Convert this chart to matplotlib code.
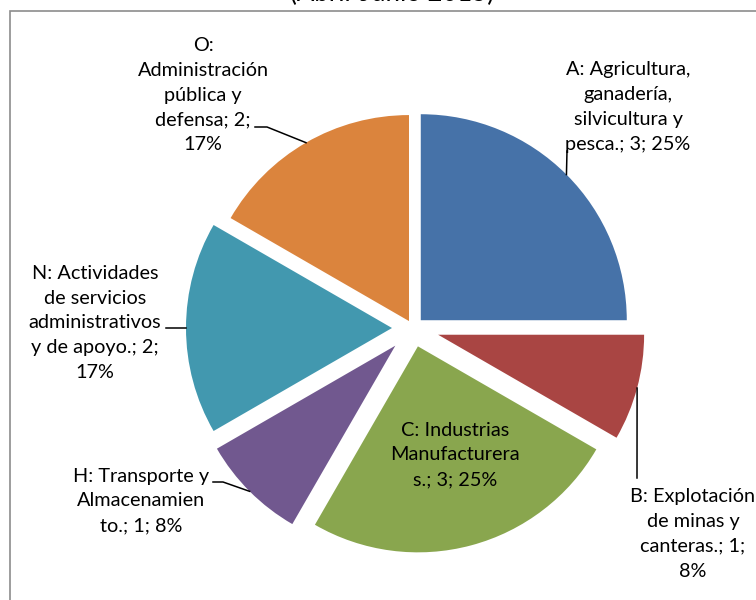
import matplotlib
matplotlib.use("Agg")
import numpy as np
import matplotlib.pyplot as plt
from matplotlib.patches import Rectangle

# Datos del gráfico
categorias = ["A", "B", "C", "H", "N", "O"]
valores = [3, 1, 3, 1, 2, 2]
# etiquetas con los saltos de línea tal como aparecen en la imagen
etiquetas = [
    "A: Agricultura,\nganadería,\nsilvicultura y\npesca.; {v}; {p}%",
    "B: Explotación\nde minas y\ncanteras.; {v};\n{p}%",
    "C: Industrias\nManufacturera\ns.; {v}; {p}%",
    "H: Transporte y\nAlmacenamien\nto.; {v}; {p}%",
    "N: Actividades\nde servicios\nadministrativos\ny de apoyo.; {v};\n{p}%",
    "O:\nAdministración\npública y\ndefensa; {v};\n{p}%",
]
titulo = "(Abril-Junio 2015)"

# Estilo
colores = ["#4672a8", "#a94543", "#89a64e", "#71588f", "#4298af", "#db843d"]
explode = [11, 26, 19, 25, 21, 8]  # en píxeles
W, H = 756, 600
centro = (413, H - 328)
radio = 206

plt.rcParams["font.family"] = ["Lato", "DejaVu Sans"]

fig = plt.figure(figsize=(W / 100, H / 100), dpi=100)
ax = fig.add_axes([0, 0, 1, 1])

# Marco del gráfico
ax.add_patch(Rectangle((9.5, -50), 900, H - 10.5 + 50, fill=False,
                       edgecolor="#8c8c8c", linewidth=1.2))

wedges, _ = ax.pie(valores, colors=colores, explode=explode, center=centro,
                   radius=radio, startangle=90, counterclock=False,
                   wedgeprops=dict(linewidth=0), frame=True)
ax.set_xlim(0, W)
ax.set_ylim(0, H)
ax.axis("off")

total = sum(valores)

# posición del texto (px) y punto de inicio de la línea guía
pos_texto = [(628, 107), (693, 534), (455, 455), (141, 501), (95, 323), (203, 95)]
guias = [
    [(567, 151)],
    [(637, 478)],
    None,
    [(213, 482), (223, 482)],
    [(166, 328)],
    [(255, 127), (267, 127)],
]

for w, et, v, (tx, ty), g in zip(wedges, etiquetas, valores, pos_texto, guias):
    p = int(round(v / total * 100))
    ax.text(tx, H - ty, et.format(v=v, p=p), ha="center", va="center",
            multialignment="center", fontsize=14.3, linespacing=1.55,
            color="black")
    if g is not None:
        ang = np.deg2rad((w.theta1 + w.theta2) / 2)
        cx, cy = w.center
        ex, ey = cx + w.r * np.cos(ang), cy + w.r * np.sin(ang)
        xs = [x for x, y in g] + [ex]
        ys = [H - y for x, y in g] + [ey]
        ax.plot(xs, ys, color="black", linewidth=1.1)

ax.text(392, H - 1, titulo, ha="center", va="baseline", fontsize=18.5)

fig.savefig("out.png", dpi=100)
